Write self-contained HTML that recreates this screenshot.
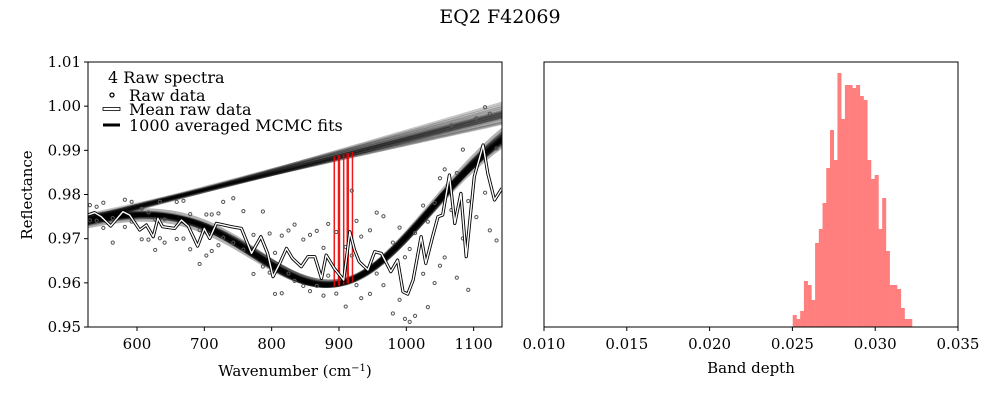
<!DOCTYPE html>
<html><head><meta charset="utf-8">
<style>
body{margin:0;background:#fff;}
svg,svg text{font-family:"DejaVu Serif","Liberation Serif",serif;}
svg{display:block;}
</style></head>
<body>
<svg id="fig" width="1000" height="400" viewBox="0 0 1000 400" xmlns="http://www.w3.org/2000/svg">
<text x="500" y="23" text-anchor="middle" font-size="19">EQ2 F42069</text>
<g id="left"></g>
<g id="right"></g>
</svg>
<script>
// ---- Left chart data ----
const meanWn = [527,537,547,561,579,589,604,614,624,631,638,656,666,676,690,700,708,718,725,740,755,770,784,794,802,812,822,831,844,854,864,874,881,893,907,916,923,930,943,953,963,977,987,995,1002,1010,1022,1029,1039,1047,1054,1064,1072,1081,1089,1101,1114,1121,1131,1142];
const meanVal = [0.97535,0.97588,0.97498,0.97286,0.97611,0.97535,0.97196,0.97309,0.97045,0.97460,0.97271,0.97233,0.97422,0.97286,0.96833,0.97233,0.97007,0.97347,0.97324,0.97271,0.97233,0.96667,0.97045,0.96667,0.96139,0.96440,0.96780,0.96554,0.96365,0.96592,0.96592,0.96101,0.96629,0.96327,0.96063,0.97158,0.96743,0.96478,0.96290,0.96705,0.96667,0.96252,0.96516,0.95799,0.95746,0.96063,0.97045,0.96440,0.97045,0.97498,0.97535,0.98441,0.97347,0.98026,0.96592,0.98404,0.99121,0.98479,0.97875,0.98139];
const rawOffA = [1.5,-1.2,2.1,-2.5,1.8,-1.0,3.2,-2.2,2.6,-3.0,1.1,4.0,-2.8,-3.5,2.4,-4.1,3.6,1.5,-2.0,4.3,-3.2,2.8,-4.5,3.0,-2.6,4.2,-3.8,5.1,-2.9,3.3,-4.4,4.6,-3.1,5.5,-4.0,6.2,-5.3,3.8,-3.6,5.9,-4.8,4.4,-6.0,5.2,-4.2,7.1,-5.6,6.3,-7.0,5.8,-6.4,7.5,-8.2,6.6,-5.0,8.8,-7.2,9.0,-6.1,7.3];
const rawOffB = [-0.8,0.9,-1.7,1.2,-2.3,2.0,-1.4,1.9,-2.0,2.5,-2.4,-1.6,2.9,1.8,-2.7,2.1,-1.9,-3.3,3.4,-2.4,2.6,-3.1,3.8,-2.9,3.6,-4.5,2.7,-3.4,4.1,-5.2,3.9,-2.6,4.7,-3.8,5.0,-3.6,4.4,-5.5,6.0,-3.3,5.6,-6.3,4.9,-4.1,6.8,-5.4,4.7,-6.6,5.1,-7.4,6.9,-5.3,7.6,-6.8,8.4,-6.1,5.7,-8.6,7.8,-5.9];
const fitContStart = [0.9738,0.9742,0.9745,0.9748,0.9744,0.9740,0.9750,0.9747,0.9743,0.9752,0.9746,0.9741,0.9749,0.9745,0.9755,0.9735,0.9744,0.9748,0.9746,0.9742];
const fitContEnd =   [0.9985,0.9975,0.9980,0.9992,0.9972,0.9996,0.9965,0.9988,0.9982,0.9962,0.9978,1.0000,0.9970,0.9986,0.9960,1.0006,0.9976,0.9984,0.9980,0.9974];
const fitCenter =    [905,902,908,906,900,910,904,909,907,901,906,912,899,905,908,903,909,906,907,904];
const fitDepth =     [0.0290,0.0287,0.0293,0.0296,0.0284,0.0291,0.0282,0.0298,0.0289,0.0283,0.0291,0.0295,0.0285,0.0289,0.0280,0.0300,0.0288,0.0293,0.0290,0.0287];
const fitSigma =     [130,129,131,132,128,130,127,133,130,128,131,132,129,130,127,134,129,131,130,130];
const redCenters = [893,900,907,913,920];
const xTicksL = [600,700,800,900,1000,1100];
const yTicksL = [0.95,0.96,0.97,0.98,0.99,1.00,1.01];
// ---- Right chart data ----
const binStart = 0.02502, binWidth = 0.000225;
const binCounts = [12,8,16,46,42,27,84,98,124,159,197,167,254,208,242,242,239,242,231,227,167,148,152,98,129,76,42,42,38,19,8,8];
const xTicksR = [0.010,0.015,0.020,0.025,0.030,0.035];

const NS="http://www.w3.org/2000/svg";
const FF="'DejaVu Serif', 'Liberation Serif', serif";
function mk(tag,parent,attrs){const e=document.createElementNS(NS,tag);for(const k in attrs)e.setAttribute(k,attrs[k]);if(tag==='text')e.style.fontFamily=FF;parent.appendChild(e);return e;}

const L={x0:88,x1:502,y0:62,y1:327};
const xs=w=>137+(w-600)*0.6733;
const ys=v=>62+(1.01-v)*4417;
const lg=document.getElementById('left');
const clip=mk('clipPath',lg,{id:'clipL'});
mk('rect',clip,{x:L.x0,y:L.y0,width:L.x1-L.x0,height:L.y1-L.y0});
const plot=mk('g',lg,{'clip-path':'url(#clipL)'});


const W0=527,W1=1142;
for(let i=0;i<fitContStart.length;i++){
  let cpts=[],fpts=[];
  for(let w=W0-10;w<=W1+10;w+=5){
    const c=fitContStart[i]+(fitContEnd[i]-fitContStart[i])*(w-530)/610;
    const f=c-fitDepth[i]*Math.exp(-((w-fitCenter[i])**2)/(2*fitSigma[i]**2));
    cpts.push(xs(w).toFixed(1)+','+ys(c).toFixed(1));
    fpts.push(xs(w).toFixed(1)+','+ys(f).toFixed(1));
  }
  const cl=mk('polyline',plot,{points:cpts.join(' '),fill:'none',stroke:'#000','stroke-opacity':0.22,'stroke-width':3});
  
  
  const fl=mk('polyline',plot,{points:fpts.join(' '),fill:'none',stroke:'#000','stroke-opacity':0.3,'stroke-width':4});
  
  
}
redCenters.forEach((c,i)=>{
  const cc=0.9745+0.0237*(c-530)/610;
  const r=mk('line',plot,{x1:xs(c),x2:xs(c),y1:ys(cc),y2:ys(cc-0.0295),stroke:'#e00','stroke-width':(i%2?2.5:1.5),'stroke-opacity':0.9});
  
  
});
for(let i=0;i<meanWn.length;i++){
  [rawOffA,rawOffB].forEach(arr=>{
    const p=mk('circle',plot,{cx:xs(meanWn[i]+3),cy:ys(meanVal[i]+1.5*arr[i]/1000),r:1.6,fill:'none',stroke:'#555','stroke-width':1});
    
    
  });
}
const mp=meanWn.map((w,i)=>xs(w).toFixed(1)+','+ys(meanVal[i]).toFixed(1)).join(' ');
const m1=mk('polyline',plot,{points:mp,fill:'none',stroke:'#000','stroke-width':3.2,'stroke-linejoin':'round'});


const m2=mk('polyline',plot,{points:mp,fill:'none',stroke:'#fff','stroke-width':1.4,'stroke-linejoin':'round'});


const fr=mk('rect',lg,{x:L.x0,y:L.y0,width:L.x1-L.x0,height:L.y1-L.y0,fill:'none',stroke:'#000','stroke-width':1});


xTicksL.forEach(t=>{
  mk('line',lg,{x1:xs(t),x2:xs(t),y1:L.y1,y2:L.y1+4,stroke:'#000'});
  const tx=mk('text',lg,{x:xs(t),y:L.y1+22,'text-anchor':'middle','font-size':15});
  tx.textContent=t;
  
  
});
yTicksL.forEach(t=>{
  mk('line',lg,{x1:L.x0-4,x2:L.x0,y1:ys(t),y2:ys(t),stroke:'#000'});
  const tx=mk('text',lg,{x:L.x0-7,y:ys(t)+5,'text-anchor':'end','font-size':15});
  tx.textContent=t.toFixed(2);
  
  
});
const xl=mk('text',lg,{x:295,y:376,'text-anchor':'middle','font-size':15});
xl.innerHTML='Wavenumber (cm<tspan baseline-shift="super" font-size="10">−1</tspan>)';


const yl=mk('text',lg,{x:32,y:195,'text-anchor':'middle','font-size':15,transform:'rotate(-90 32 195)'});
yl.textContent='Reflectance';


const leg=mk('g',lg,{});


const lt=mk('text',leg,{x:108,y:83,'font-size':16});lt.textContent='4 Raw spectra';
mk('circle',leg,{cx:112,cy:95,r:2,fill:'none',stroke:'#000','stroke-width':1.3});
const l1=mk('text',leg,{x:129,y:101,'font-size':16});l1.textContent='Raw data';
mk('rect',leg,{x:103,y:107.5,width:17,height:3,fill:'#fff',stroke:'#000','stroke-width':0.8});
const l2=mk('text',leg,{x:129,y:115,'font-size':16});l2.textContent='Mean raw data';
mk('line',leg,{x1:103,x2:120,y1:125,y2:125,stroke:'#000','stroke-width':3});
const l3=mk('text',leg,{x:129,y:131,'font-size':16});l3.textContent='1000 averaged MCMC fits';

const R={x0:544,x1:958,y0:62,y1:327};
const xr=v=>544+(v-0.010)*16560;
const yr=c=>327-c;
const rg=document.getElementById('right');
binCounts.forEach((c,i)=>{
  const a=xr(binStart+i*binWidth), b=xr(binStart+(i+1)*binWidth);
  const r=mk('rect',rg,{x:a,y:yr(c),width:b-a+0.3,height:c,fill:'#ff7f7f'});
  
  
});
const fr2=mk('rect',rg,{x:R.x0,y:R.y0,width:R.x1-R.x0,height:R.y1-R.y0,fill:'none',stroke:'#000','stroke-width':1});


xTicksR.forEach(t=>{
  mk('line',rg,{x1:xr(t),x2:xr(t),y1:R.y1,y2:R.y1+4,stroke:'#000'});
  const tx=mk('text',rg,{x:xr(t),y:R.y1+22,'text-anchor':'middle','font-size':15});
  tx.textContent=t.toFixed(3);
  
  
});
const xl2=mk('text',rg,{x:751,y:373,'text-anchor':'middle','font-size':15});
xl2.textContent='Band depth';


</script>
</body></html>
